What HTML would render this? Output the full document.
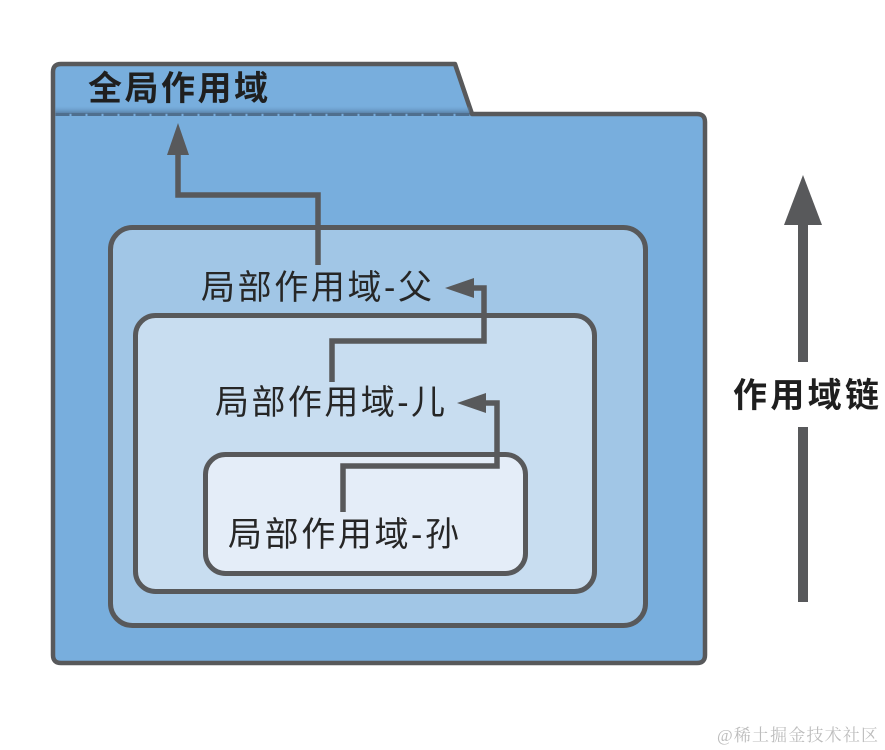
<!DOCTYPE html>
<html>
<head>
<meta charset="utf-8">
<style>
  html, body { margin: 0; padding: 0; background: #ffffff; }
  body { width: 885px; height: 750px; overflow: hidden; }
  svg { display: block; }
  .lbl { font-family: "Liberation Sans", "Noto Sans CJK SC", sans-serif; fill: #262626; }
  .bold { font-family: "Liberation Sans", "Noto Sans CJK SC", sans-serif; font-weight: bold; fill: #1f1f1f; }
</style>
</head>
<body>
<svg width="885" height="750" viewBox="0 0 885 750" xmlns="http://www.w3.org/2000/svg">
  <defs>
    <linearGradient id="tabShade" x1="0" y1="0" x2="0" y2="1">
      <stop offset="0" stop-color="#6a9fcf" stop-opacity="0"/>
      <stop offset="1" stop-color="#55799c" stop-opacity="1"/>
    </linearGradient>
  </defs>

  <!-- Folder (global scope) -->
  <path d="M53,655 L53,72 Q53,64 61,64 L455,64 L472,114 L697,114 Q705,114 705,122 L705,655 Q705,663 697,663 L61,663 Q53,663 53,655 Z"
        fill="#78aedd" stroke="#58595b" stroke-width="4.5" stroke-linejoin="round"/>
  <!-- tab separator shading -->
  <rect x="55.5" y="106" width="414" height="8" fill="url(#tabShade)"/>
  <line x1="55.5" y1="114.5" x2="470" y2="114.5" stroke="#4f6f8e" stroke-width="3" stroke-dasharray="14 2"/>

  <!-- Parent scope box -->
  <rect x="110.5" y="227.5" width="535" height="398" rx="22" ry="22" fill="#a1c6e6" stroke="#58595b" stroke-width="5"/>
  <!-- Child scope box -->
  <rect x="135.5" y="315.5" width="459" height="276" rx="20" ry="20" fill="#c8ddf0" stroke="#58595b" stroke-width="5"/>
  <!-- Grandchild scope box -->
  <rect x="205.5" y="454.5" width="320" height="119" rx="20" ry="20" fill="#e4edf8" stroke="#58595b" stroke-width="5"/>

  <!-- Title -->
  <text class="bold" x="88" y="100" font-size="34" textLength="180" lengthAdjust="spacing">全局作用域</text>

  <!-- Labels -->
  <text class="lbl" x="201" y="299" font-size="34" textLength="231" lengthAdjust="spacing">局部作用域-父</text>
  <text class="lbl" x="215" y="414" font-size="34" textLength="230" lengthAdjust="spacing">局部作用域-儿</text>
  <text class="lbl" x="228" y="546" font-size="34" textLength="231" lengthAdjust="spacing">局部作用域-孙</text>

  <!-- Arrow 1: parent -> global -->
  <polyline points="318,265 318,195 178,195 178,150" fill="none" stroke="#58595b" stroke-width="5.5" stroke-linejoin="miter"/>
  <polygon points="178,123 167,155 189,155" fill="#58595b"/>

  <!-- Arrow 2: child -> parent -->
  <polyline points="332,382 332,341 484,341 484,288 470,288" fill="none" stroke="#58595b" stroke-width="5.5" stroke-linejoin="miter"/>
  <polygon points="445,288 474,278 474,298" fill="#58595b"/>

  <!-- Arrow 3: grandchild -> child -->
  <polyline points="343,512 343,466 497,466 497,403 483,403" fill="none" stroke="#58595b" stroke-width="5.5" stroke-linejoin="miter"/>
  <polygon points="457,403 486,393 486,413" fill="#58595b"/>

  <!-- Scope chain arrow -->
  <rect x="798" y="220" width="10" height="142" fill="#58595b"/>
  <polygon points="803,175 784,225 822,225" fill="#58595b"/>
  <rect x="798" y="427" width="10" height="175" fill="#58595b"/>
  <text class="bold" x="733" y="407" font-size="34" textLength="146" lengthAdjust="spacing">作用域链</text>

  <!-- Watermark -->
  <text x="717" y="741" font-size="17" textLength="161" lengthAdjust="spacing"
        style="font-family: 'Liberation Serif', 'Noto Serif CJK SC', serif; fill: #bdbdbd;">@稀土掘金技术社区</text>
</svg>
</body>
</html>
